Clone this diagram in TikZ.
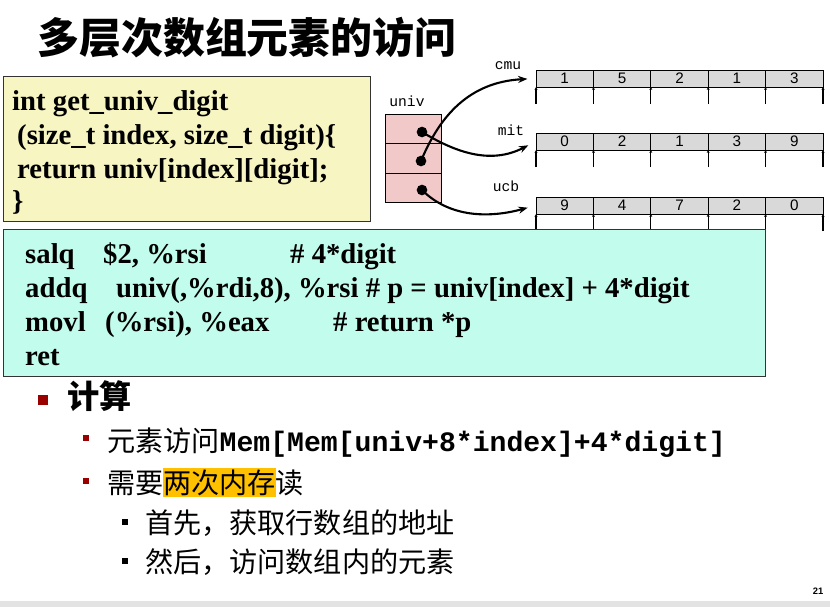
\documentclass[tikz,border=0pt]{standalone}
\usepackage{fontspec}
\setmainfont{Liberation Serif}
\newfontfamily\cjk{Noto Sans CJK SC}
\newfontfamily\monofam{Liberation Mono}
\newfontfamily\sansfam{Liberation Sans}
\usetikzlibrary{arrows.meta,positioning}
\definecolor{codeyellow}{HTML}{F7F5C2}
\definecolor{codecyan}{HTML}{C2FCEC}
\definecolor{cellpink}{HTML}{F2C9C9}
\definecolor{cellgray}{HTML}{D9D9D9}
\definecolor{bulletred}{HTML}{990000}
\definecolor{marker}{HTML}{FFC000}
\newcommand{\codefont}{\fontsize{24.5pt}{29pt}\selectfont\bfseries}
\newcommand{\cjkbody}{\cjk\fontsize{24pt}{28pt}\selectfont}
\newcommand{\cellfont}{\sansfam\fontsize{13pt}{14pt}\selectfont}
\newcommand{\labelfont}{\monofam\fontsize{12.5pt}{14pt}\selectfont}
\tikzset{
  codeline/.style={anchor=base west,inner sep=0pt,font=\codefont},
  ptrcell/.style={draw,fill=cellpink,minimum width=1.68cm,minimum height=0.885cm,inner sep=0pt,line width=0.8pt},
  ptrdot/.style={circle,fill=black,minimum size=0.32cm,inner sep=0pt},
  arrcell/.style={draw,fill=cellgray,minimum width=1.722cm,minimum height=0.51cm,inner sep=0pt,font=\cellfont,line width=0.6pt},
  ptr/.style={-{Stealth[length=8pt,width=6pt]},line width=1.8pt,shorten >=7pt},
  tick/.style={-{Stealth[length=2.5pt,width=2.5pt]},line width=0.9pt},
  arrname/.style={anchor=base,inner sep=0pt,font=\labelfont},
  itemtext/.style={anchor=base west,inner sep=0pt,font=\cjkbody},
  sqbullet/.style={rectangle,inner sep=0pt,minimum width=#1,minimum height=#1}
}
\begin{document}
\begin{tikzpicture}[x=0.03cm,y=-0.03cm]
  \useasboundingbox (0,0) rectangle (830,607);
  \fill[gray!22] (0,601) rectangle (830,607);
  % title
  \node[anchor=west,inner sep=0pt,font=\cjk\bfseries\fontsize{35.8pt}{40pt}\selectfont] (title) at (37,38) {多层次数组元素的访问};

  % C code
  \draw[fill=codeyellow,draw=black!80,line width=0.8pt] (3,76) rectangle (370,221);
  \node[codeline] (c1) at (12,110) {int get\_univ\_digit};
  \node[codeline] (c2) at (17,144) {(size\_t index, size\_t digit)\{};
  \node[codeline] (c3) at (17,178) {return univ[index][digit];};
  \node[codeline] (c4) at (12,210) {\}};

  % pointer array
  \node[arrname] (univlbl) at (407,106) {univ};
  \node[ptrcell] (cell0) at (413,129) {};
  \node[ptrcell] (cell1) at (413,158.5) {};
  \node[ptrcell] (cell2) at (413,188) {};
  \node[ptrdot] (p0) at (422,132) {};
  \node[ptrdot] (p1) at (421,161) {};
  \node[ptrdot] (p2) at (422,190) {};

  % digit arrays
  \foreach \name/\top/\digits in {cmu/70/{1,5,2,1,3},mit/133/{0,2,1,3,9},ucb/197/{9,4,7,2,0}}{
    \foreach \d [count=\i from 0] in \digits
      \node[arrcell] (\name-\i) at (536+57.4*\i+28.7,\top+8.5) {\d};
    \foreach \k in {0,...,5}
      \draw[tick] (536+57.4*\k,\top+34) -- (536+57.4*\k,\top+17);
  }
  \node[arrname] (cmulbl) at (508,69) {cmu};
  \node[arrname] (mitlbl) at (511,135) {mit};
  \node[arrname] (ucblbl) at (506,191) {ucb};

  \draw[ptr] (p0.center) .. controls (455,152) and (490,165) .. (mit-0.west);
  \draw[ptr] (p1.center) .. controls (440,115) and (470,82) .. (cmu-0.west);
  \draw[ptr] (p2.center) .. controls (450,218) and (490,218) .. (ucb-0.west);

  % assembly
  \draw[fill=codecyan,draw=black!80,line width=0.8pt] (3,229) rectangle (765,376);
  \node[codeline] (a1) at (25,263) {salq};
  \node[codeline] at (103,263) {\$2, \%rsi};
  \node[codeline] at (290,263) {\# 4*digit};
  \node[codeline] (a2) at (25,297) {addq};
  \node[codeline] at (116,297) {univ(,\%rdi,8), \%rsi \# p = univ[index] + 4*digit};
  \node[codeline] (a3) at (25,331) {movl};
  \node[codeline] at (105,331) {(\%rsi), \%eax};
  \node[codeline] at (333,331) {\# return *p};
  \node[codeline] (a4) at (25,365) {ret};

  % bullets
  \node[sqbullet=8.5pt,fill=bulletred] (b1) at (43,400) {};
  \node[anchor=base west,inner sep=0pt,font=\cjk\bfseries\fontsize{27.5pt}{30pt}\selectfont] (t1) at (67,408) {计算};
  \node[sqbullet=5.5pt,fill=bulletred] (b2) at (86,438) {};
  \node[itemtext] (t2) at (107,451) {元素访问{\monofam\bfseries Mem[Mem[univ+8*index]+4*digit]}};
  \node[sqbullet=5.5pt,fill=bulletred] (b3) at (86,481) {};
  \node[itemtext] (t3) at (107,493) {需要{\fboxsep=0pt\colorbox{marker}{\rule[-0.15em]{0pt}{1.03em}两次内存}}读};
  \node[sqbullet=4.5pt,fill=black] (b4) at (125,522) {};
  \node[itemtext] (t4) at (145,533) {首先，获取行数组的地址};
  \node[sqbullet=4.5pt,fill=black] (b5) at (125,561) {};
  \node[itemtext] (t5) at (145,572) {然后，访问数组内的元素};

  \node[inner sep=0pt,font=\sansfam\bfseries\fontsize{8pt}{9pt}\selectfont] (page) at (818,591) {21};
\end{tikzpicture}
\end{document}
